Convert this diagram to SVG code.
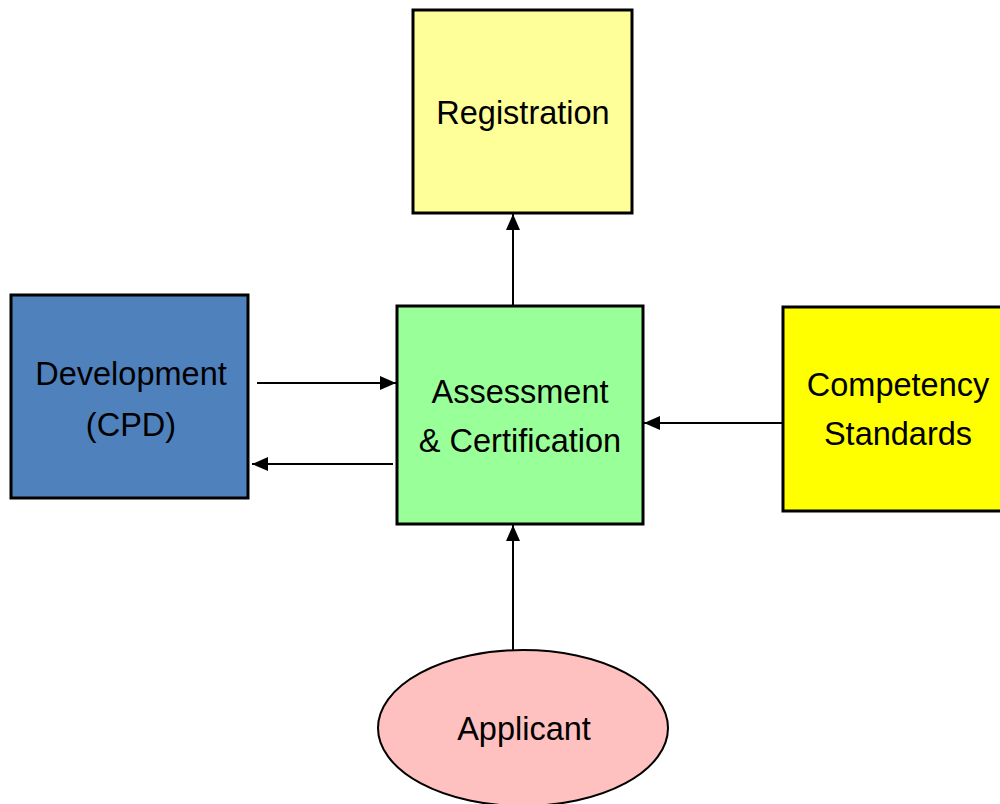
<svg xmlns="http://www.w3.org/2000/svg" width="1000" height="804" viewBox="0 0 1000 804">
<style>
.box{stroke:#000;stroke-width:3}
.lbl{font-family:"Liberation Sans",Arial,sans-serif;font-size:32.5px;fill:#000;text-anchor:middle}
.c{stroke:#000;stroke-width:2;fill:none;marker-end:url(#ah)}
</style>
<defs>
<marker id="ah" viewBox="0 0 16 14" refX="16" refY="7" markerWidth="16" markerHeight="14" markerUnits="userSpaceOnUse" orient="auto">
<path d="M0,0 L16,7 L0,14 z" fill="#000"/>
</marker>
</defs>
<rect width="1000" height="804" fill="#fff"/>
<g id="connectors">
<line class="c" x1="513" y1="307" x2="513" y2="214"/>
<line class="c" x1="257" y1="383" x2="396" y2="383"/>
<line class="c" x1="393" y1="464" x2="252" y2="464"/>
<line class="c" x1="783" y1="423" x2="644" y2="423"/>
<line class="c" x1="513" y1="650" x2="513" y2="525"/>
</g>
<g id="registration">
<rect class="box" x="413" y="10" width="219" height="203" fill="#ffff99"/>
<text class="lbl" x="523" y="124">Registration</text>
</g>
<g id="assessment">
<rect class="box" x="397" y="306" width="246" height="218" fill="#99ff99"/>
<text class="lbl" x="520" y="403">Assessment</text>
<text class="lbl" x="520" y="452">&amp; Certification</text>
</g>
<g id="development">
<rect class="box" x="11" y="295" width="237" height="203" fill="#4f81bd"/>
<text class="lbl" x="131" y="385">Development</text>
<text class="lbl" x="131" y="436">(CPD)</text>
</g>
<g id="competency">
<rect class="box" x="783" y="307" width="222" height="204" fill="#ffff00"/>
<text class="lbl" x="898" y="396">Competency</text>
<text class="lbl" x="898" y="445">Standards</text>
</g>
<g id="applicant">
<ellipse cx="523" cy="728" rx="145" ry="78" fill="#ffc0c0" stroke="#000" stroke-width="2"/>
<text class="lbl" x="524" y="740">Applicant</text>
</g>
</svg>
